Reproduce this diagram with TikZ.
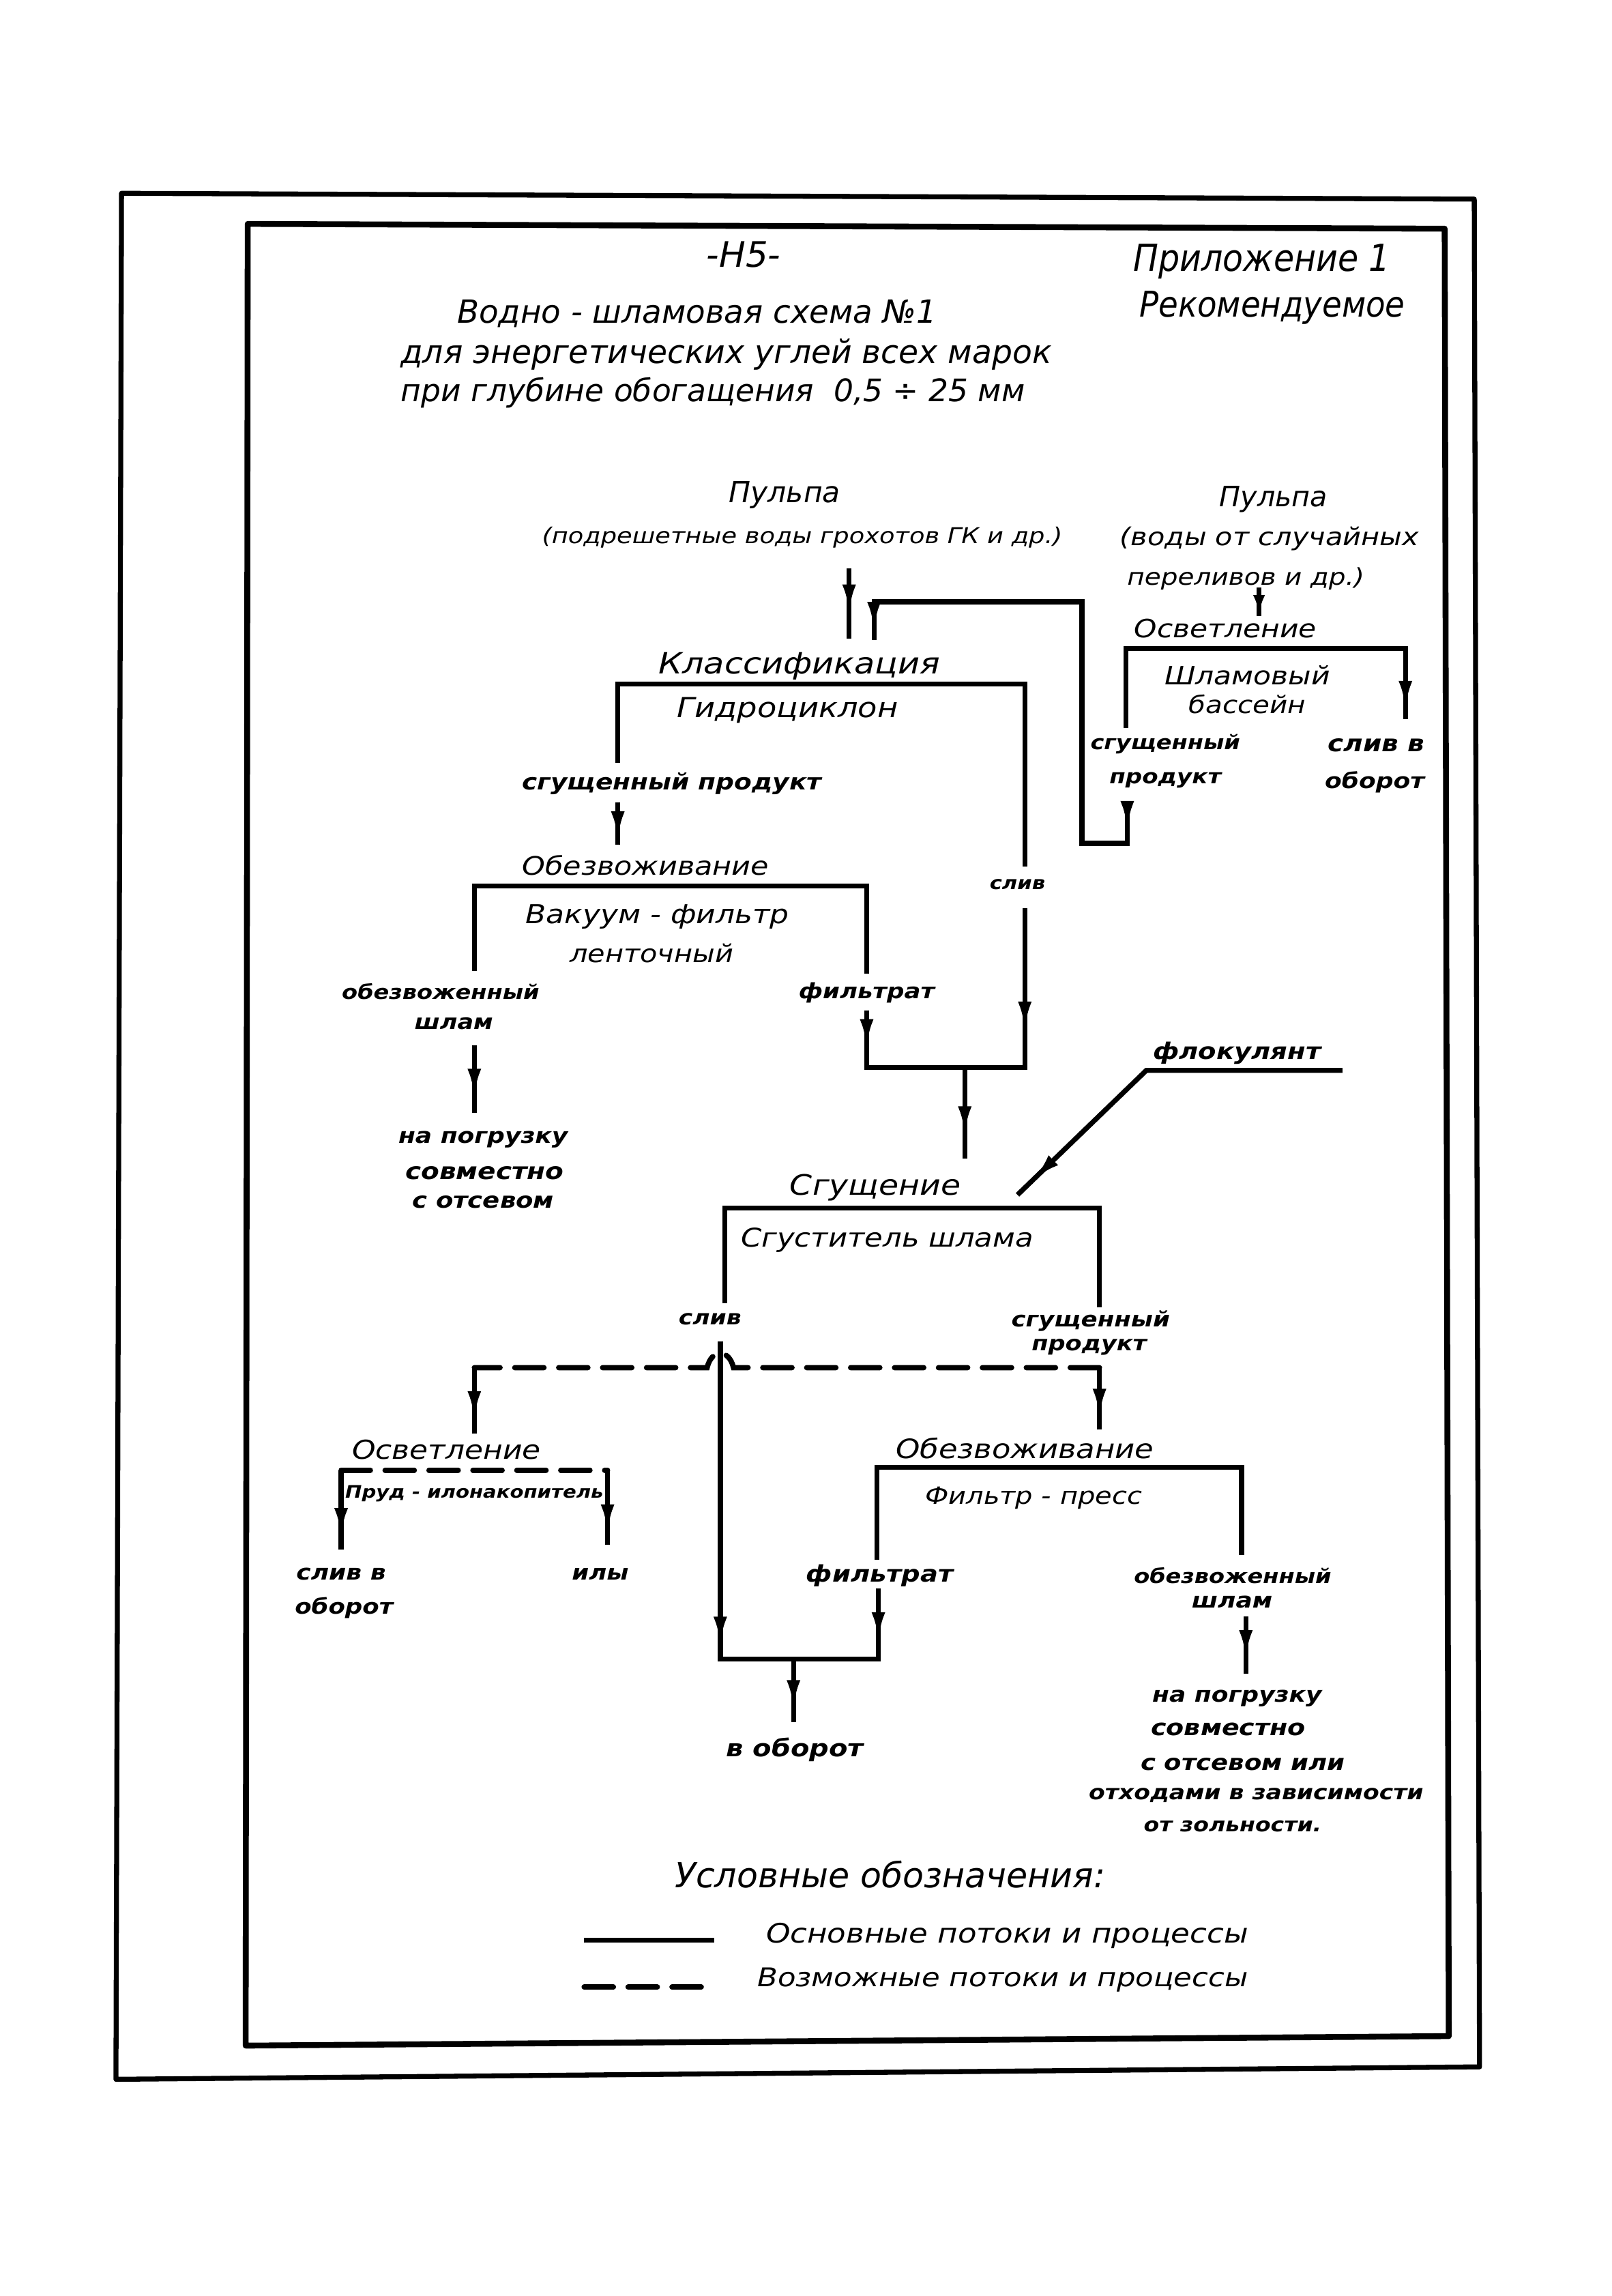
\documentclass[tikz,border=0pt]{standalone}
\usepackage{fontspec}
\setmainfont{DejaVu Sans}[FakeStretch=1.15,
  BoldFont={DejaVu Sans Bold},
  ItalicFont={DejaVu Sans Oblique},
  BoldItalicFont={DejaVu Sans Bold Oblique}]
\newfontfamily\hdrfont{DejaVu Sans}[FakeStretch=1.0,
  BoldFont={DejaVu Sans Bold},
  ItalicFont={DejaVu Sans Oblique},
  BoldItalicFont={DejaVu Sans Bold Oblique}]
\newfontfamily\apxfont{DejaVu Sans}[FakeStretch=0.9,
  BoldFont={DejaVu Sans Bold},
  ItalicFont={DejaVu Sans Oblique},
  BoldItalicFont={DejaVu Sans Bold Oblique}]
\usetikzlibrary{arrows.meta,decorations.markings}
\newcommand{\setfs}[1]{\fontsize{#1}{#1}\selectfont}
\begin{document}
\begin{tikzpicture}[x=0.5pt,y=-0.5pt,
  txt/.style={inner sep=0pt, font=\itshape\setfs{#1}},
  htxt/.style={inner sep=0pt, font=\hdrfont\itshape\setfs{#1}},
  atxt/.style={inner sep=0pt, font=\apxfont\itshape\setfs{#1}},
  lab/.style={inner sep=0pt, font=\bfseries\itshape\setfs{#1}},
  flow/.style={line width=1.7pt, line join=miter},
  poss/.style={line width=1.8pt, line cap=round, dash pattern=on 10pt off 5pt},
  ar/.style={postaction={decorate, decoration={markings,
      mark=at position #1 with {\arrow{Latex[length=10pt,width=4.6pt]}}}}},
  arr/.style={postaction={decorate, decoration={markings,
      mark=at position #1 with {\arrowreversed{Latex[length=10pt,width=4.6pt]}}}}},
  ars/.style={postaction={decorate, decoration={markings,
      mark=at position #1 with {\arrow{Latex[length=7pt,width=4pt]}}}}}
]
\useasboundingbox (0,0) rectangle (1101,1568);
\fill[white] (0,0) rectangle (1101,1568);

% frames
\draw[line width=1.7pt, line join=round] (83,132) -- (1007,136) -- (1010.6,1411.5) -- (79.2,1420) -- cycle;
\draw[line width=2pt, line join=round] (169.2,152.9) -- (986.8,156.2) -- (989.6,1390.5) -- (167.8,1397) -- cycle;

% header
\node[htxt=12] (page) at (508,174) {-H5-};
\node[atxt=12.7] (pril) at (862,178.5) {Приложение 1};
\node[atxt=12.1] (rek) at (869,210) {Рекомендуемое};
\node[htxt=10.9] (t1) at (476,214) {Водно - шламовая схема №1};
\node[htxt=11.0] (t2) at (496,242) {для энергетических углей всех марок};
\node[htxt=10.6] (t3) at (487,268) {при глубине обогащения\ \ 0,5 ÷ 25 мм};

% inputs
\node[htxt=9.9] (p1) at (536,338) {Пульпа};
\node[txt=7.45] (p1s) at (548,367) {(подрешетные воды грохотов ГК и др.)};
\node[htxt=9.6] (p2) at (870,341) {Пульпа};
\node[txt=8.4] (p2s) at (867,368) {(воды от случайных};
\node[txt=7.9] (p2t) at (851,395) {переливов и др.)};

% right clarification
\node[txt=8.6] (osv1) at (837,429) {Осветление};
\node[txt=8.6] (shl) at (852,461) {Шламовый};
\node[txt=8.2] (bas) at (852,481) {бассейн};
\node[lab=6.8] (sg1) at (796,508) {сгущенный};
\node[lab=6.9] (pr1) at (796,533) {продукт};
\node[lab=7.9] (sl1) at (940,509) {слив в};
\node[lab=7.3] (ob1) at (939,534) {оборот};

% classification
\node[txt=10.0] (kl) at (546,455) {Классификация};
\node[txt=9.4] (gid) at (538,485) {Гидроциклон};
\node[lab=7.6] (sgp) at (459,535) {сгущенный продукт};
\node[lab=6.2] (sliv1) at (695,604) {слив};

% dewatering 1
\node[txt=8.7] (obz1) at (441,591) {Обезвоживание};
\node[txt=8.9] (vak) at (449,626) {Вакуум - фильтр};
\node[txt=8.4] (len) at (445,651) {ленточный};
\node[lab=6.8] (obw1) at (301,677) {обезвоженный};
\node[lab=7.1] (shl1) at (310,699) {шлам};
\node[lab=7.2] (fil1) at (592,678) {фильтрат};
\node[lab=7.3] (np1) at (330,778) {на погрузку};
\node[lab=7.9] (sov1) at (331,801) {совместно};
\node[lab=7.5] (sot1) at (330,821) {с отсевом};
\node[lab=7.8] (flk) at (845,719) {флокулянт};

% thickening
\node[txt=9.6] (sgu) at (598,811) {Сгущение};
\node[txt=8.8] (sgsh) at (606,847) {Сгуститель шлама};
\node[lab=7.0] (sl2) at (485,901) {слив};
\node[lab=7.2] (sg2) at (745,902) {сгущенный};
\node[lab=7.1] (pr2) at (744,920) {продукт};

% clarification 2
\node[txt=8.9] (osv2) at (305,990) {Осветление};
\node[lab=5.9] (prud) at (324,1020) {Пруд - илонакопитель};
\node[lab=7.3] (sl3) at (233,1075) {слив в};
\node[lab=7.2] (ob3) at (235,1098) {оборот};
\node[lab=7.2] (ily) at (410,1075) {илы};

% dewatering 2
\node[txt=9.1] (obz2) at (700,989) {Обезвоживание};
\node[txt=8.1] (fp) at (706,1023) {Фильтр - пресс};
\node[lab=7.8] (fil2) at (601,1076) {фильтрат};
\node[lab=6.8] (obw2) at (842,1076) {обезвоженный};
\node[lab=7.3] (shl2) at (841.6,1094) {шлам};
\node[lab=8.1] (vob) at (543,1195) {в оборот};
\node[lab=7.3] (np2) at (845,1160) {на погрузку};
\node[lab=7.7] (sov2) at (839,1181) {совместно};
\node[lab=7.5] (sot2) at (849,1205) {с отсевом или};
\node[lab=7.0] (otx) at (858,1226) {отходами в зависимости};
\node[lab=6.7] (zol) at (842,1247) {от зольности.};

% legend
\node[htxt=11.8] (usl) at (608,1280) {Условные обозначения:};
\node[txt=9.15] (osn) at (688,1322) {Основные потоки и процессы};
\node[txt=8.8] (voz) at (685,1352) {Возможные потоки и процессы};

% coordinates
\coordinate (p1a) at (580,388); \coordinate (p1b) at (580,436);
\coordinate (ret0) at (770,548); \coordinate (ret1) at (770,576);
\coordinate (ret2) at (739,576); \coordinate (ret3) at (739,411);
\coordinate (ret4) at (597,411); \coordinate (ret5) at (597,437);
\coordinate (p2a) at (860,401); \coordinate (p2b) at (860,421);
\coordinate (obl0) at (769,497); \coordinate (obl) at (769,443);
\coordinate (obr) at (960,443); \coordinate (obr0) at (960,491);
\coordinate (kll0) at (422,521); \coordinate (kll) at (422,467);
\coordinate (klr) at (700,467); \coordinate (klr0) at (700,592);
\coordinate (sl1a) at (700,620); \coordinate (j1r) at (700,729);
\coordinate (j1l) at (592,729); \coordinate (fl1a) at (592,690);
\coordinate (j1m) at (659,729); \coordinate (sgin) at (659,791);
\coordinate (flkr) at (917,731); \coordinate (flkk) at (783,731);
\coordinate (flke) at (695,816);
\coordinate (spa) at (422,548); \coordinate (spb) at (422,577);
\coordinate (vfl0) at (324,663); \coordinate (vfl) at (324,605);
\coordinate (vfr) at (592,605); \coordinate (vfr0) at (592,665);
\coordinate (owa) at (324,714); \coordinate (owb) at (324,760);
\coordinate (sgl0) at (495,890); \coordinate (sgl) at (495,825);
\coordinate (sgr) at (751,825); \coordinate (sgr0) at (751,893);
\coordinate (sl2a) at (492,916); \coordinate (j2l) at (492,1133);
\coordinate (j2r) at (600,1133); \coordinate (fl2a) at (600,1085);
\coordinate (j2m) at (542,1133); \coordinate (voba) at (542,1176);
\coordinate (dr) at (751,934); \coordinate (dl) at (324,934);
\coordinate (bumpr) at (501,934); \coordinate (bumpl) at (483,934);
\coordinate (sgpb) at (751,976); \coordinate (dlb) at (324,979);
\coordinate (fpl0) at (599,1065); \coordinate (fpl) at (599,1002);
\coordinate (fpr) at (848,1002); \coordinate (fpr0) at (848,1062);
\coordinate (ow2a) at (851,1104); \coordinate (ow2b) at (851,1143);
\coordinate (prl) at (233,1004); \coordinate (prr) at (415,1004);
\coordinate (prl0) at (233,1058); \coordinate (prr0) at (415,1055);
\coordinate (lg1a) at (399,1325); \coordinate (lg1b) at (488,1325);
\coordinate (lg2a) at (399,1357); \coordinate (lg2b) at (488,1357);

% flows
\draw[flow, ar=0.65] (p1a) -- (p1b);
\draw[flow, ar=9.5pt, ar=-3pt] (ret0) -- (ret1) -- (ret2) -- (ret3) -- (ret4) -- (ret5);
\draw[flow, ars=0.97] (p2a) -- (p2b);
\draw[flow, ar=-3pt] (obl0) -- (obl) -- (obr) -- (obr0);
\draw[flow] (kll0) -- (kll) -- (klr) -- (klr0);
\draw[flow, ar=13pt, arr=-42pt] (fl1a) -- (j1l) -- (j1r) -- (sl1a);
\draw[flow, ar=0.75] (j1m) -- (sgin);
\draw[flow, ar=-7pt] (flkr) -- (flkk) -- (flke);
\draw[flow, ar=0.9] (spa) -- (spb);
\draw[flow] (vfl0) -- (vfl) -- (vfr) -- (vfr0);
\draw[flow, ar=0.78] (owa) -- (owb);
\draw[flow] (sgl0) -- (sgl) -- (sgr) -- (sgr0);
\draw[flow, ar=104pt, arr=-18pt] (sl2a) -- (j2l) -- (j2r) -- (fl2a);
\draw[flow, ar=0.8] (j2m) -- (voba);
\draw[poss] (dr) -- (bumpr) .. controls (498,921) and (486,921) .. (bumpl) -- (dl);
\draw[flow, ar=0.82] (dr) -- (sgpb);
\draw[flow, ar=0.8] (dl) -- (dlb);
\draw[flow] (fpl0) -- (fpl) -- (fpr) -- (fpr0);
\draw[flow, ar=0.75] (ow2a) -- (ow2b);
\draw[poss] (prl) -- (prr);
\draw[flow, ar=0.85] (prl) -- (prl0);
\draw[flow, ar=0.85] (prr) -- (prr0);

% legend lines
\draw[line width=1.8pt] (lg1a) -- (lg1b);
\draw[poss] (lg2a) -- (lg2b);
\end{tikzpicture}
\end{document}
